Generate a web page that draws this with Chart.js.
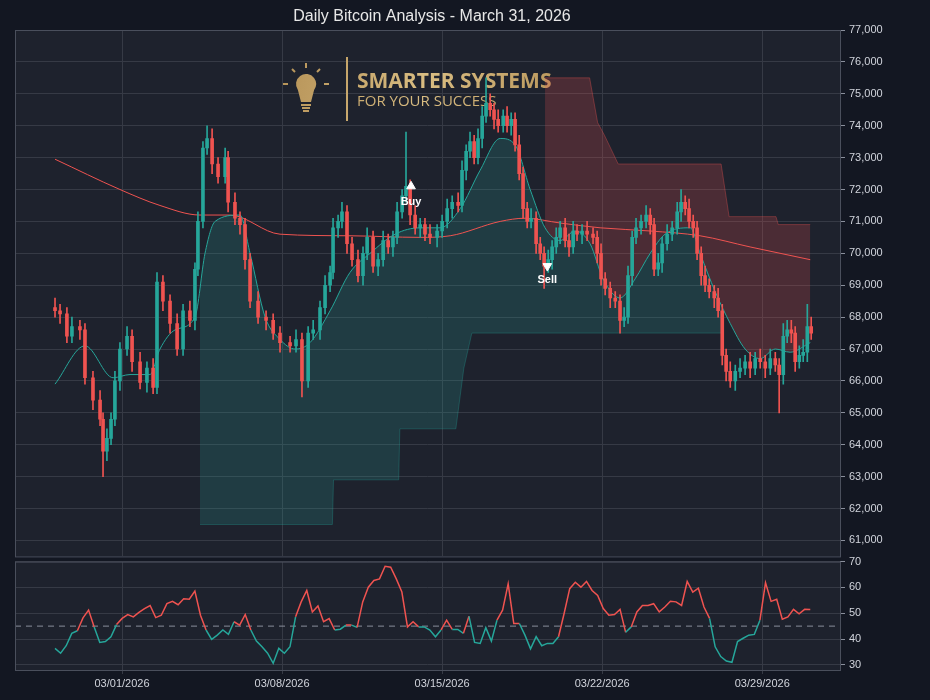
<!DOCTYPE html>
<html>
<head>
<meta charset="utf-8">
<script src="https://cdn.jsdelivr.net/npm/chart.js@4/dist/chart.umd.min.js"></script>
<style>
  body { margin: 0; background: #131722; }
  #wrap { position: relative; width: 930px; height: 700px; overflow: hidden; }
  #main { position: absolute; left: 0; top: 0; }
  #rsi { position: absolute; left: 0; top: 551px; }
</style>
</head>
<body>
<div id="wrap">
  <canvas id="main" width="930" height="567"></canvas>
  <canvas id="rsi" width="930" height="149"></canvas>
</div>
<script>
// time is in days from 03/01/2026
const title = "Daily Bitcoin Analysis - March 31, 2026";
const weekTicks = [0, 7, 14, 21, 28];
const priceTicks = [61000,62000,63000,64000,65000,66000,67000,68000,69000,70000,71000,72000,73000,74000,75000,76000,77000];
const rsiTicks = [30, 40, 50, 60, 70];

// candle times (days from 03/01) and closes (thousands of USD)
const candleT = [
  -2.93,-2.71,-2.41,-2.19,-1.84,-1.62,-1.27,-0.96,-0.83,-0.66,
  -0.48,-0.31,-0.09,0.22,0.44,0.79,1.09,1.36,1.53,1.79,
  2.10,2.41,2.67,2.97,3.19,3.32,3.54,3.72,3.94,4.20,
  4.51,4.64,4.94,5.16,5.38,5.60,5.95,6.30,6.61,6.91,
  7.35,7.61,7.87,8.14,8.36,8.66,8.88,9.10,9.23,9.45,
  9.62,9.84,10.06,10.32,10.54,10.72,10.98,11.20,11.42,11.64,
  11.85,12.03,12.25,12.42,12.60,12.82,13.04,13.25,13.47,13.78,
  14.00,14.22,14.44,14.70,14.87,15.05,15.22,15.40,15.57,15.75,
  15.92,16.10,16.27,16.45,16.67,16.84,17.02,17.19,17.37,17.54,
  17.72,17.89,18.11,18.29,18.46,18.64,18.81,18.99,19.16,19.38,
  19.55,19.73,19.90,20.12,20.34,20.60,20.78,20.95,21.13,21.35,
  21.57,21.78,21.96,22.13,22.31,22.48,22.70,22.92,23.10,23.27,
  23.45,23.62,23.84,24.06,24.28,24.45,24.63,24.80,24.98,25.15,
  25.33,25.50,25.68,25.90,26.07,26.25,26.42,26.60,26.82,27.03,
  27.25,27.47,27.69,27.91,28.13,28.35,28.57,28.74,28.92,29.09,
  29.27,29.44,29.62,29.79,29.97,30.14
];
const closes = [
  68.2,68.1,67.4,67.7,67.6,66.1,65.4,64.8,63.8,64.2,
  64.8,66.0,67.0,67.4,66.6,65.95,66.4,65.8,69.1,68.5,
  67.8,67.0,68.2,67.9,69.5,71.0,73.3,73.6,72.8,72.4,
  73.0,71.6,71.1,70.9,69.8,68.5,68.0,67.9,67.5,67.2,
  67.1,67.3,66.0,67.5,67.6,68.3,69.0,69.4,70.8,71.0,
  71.3,70.3,69.8,69.3,70.0,70.5,69.6,69.8,70.4,70.2,
  70.5,71.3,71.8,72.1,71.2,70.8,70.9,70.6,70.5,70.7,
  71.0,71.4,71.6,71.5,72.6,73.2,73.5,73.0,73.6,74.3,
  74.7,74.5,74.2,74.0,74.3,74.0,74.2,73.4,72.5,71.4,
  71.0,71.1,70.3,70.0,69.6,69.8,70.2,70.5,70.8,70.4,
  70.2,70.7,70.6,70.7,70.6,70.5,70.0,69.2,68.9,68.6,
  68.5,67.9,68.0,69.3,70.5,70.8,71.0,71.2,70.9,69.5,
  69.7,70.3,70.6,70.8,71.3,71.6,71.4,71.0,70.8,70.0,
  69.3,69.0,68.8,68.6,68.2,66.8,66.3,66.0,66.3,66.4,
  66.6,66.4,66.7,66.6,66.4,66.7,66.5,66.2,67.4,67.6,
  67.5,66.6,66.8,66.9,67.7,67.5
];
const firstOpen = 68.3;
// upper / lower wick beyond the body, hundreds of USD
const wickUp = [
  3,2,2,3,2,2,2,3,2,3, 2,3,2,3,2,3,2,3,3,2, 2,3,2,3,2,3,2,4,3,2, 3,2,3,2,2,2,3,2,2,2,
  2,3,2,2,3,2,3,2,3,2, 3,2,2,3,2,3,2,2,3,2, 2,3,2,17,2,3,2,2,3,2, 2,3,2,3,3,2,3,2,3,3,
  8,3,2,3,2,3,2,2,3,2, 2,3,2,2,2,3,2,3,2,3, 2,3,2,2,3,2,2,3,2,2, 2,2,3,3,2,3,2,3,2,2,
  3,2,3,2,3,4,2,3,2,2, 2,3,2,2,3,2,2,3,2,3, 2,3,2,3,2,3,2,2,4,3, 3,2,3,4,7,3
];
const wickDn = [
  2,3,2,2,3,2,3,2,8,3, 2,2,3,2,3,2,3,2,2,3, 3,2,2,2,3,2,2,2,3,2, 2,3,2,3,3,2,2,3,2,3,
  2,2,5,2,2,3,2,2,2,3, 2,3,2,2,3,2,2,3,2,2, 3,2,2,2,3,2,3,2,2,3, 2,2,3,2,2,3,2,2,2,3,
  2,2,3,2,2,2,3,2,2,3, 2,2,3,2,7,2,3,2,2,2, 3,2,2,3,2,2,3,2,2,3, 2,4,2,2,3,2,2,2,3,2,
  2,3,2,2,2,3,2,2,3,2, 3,2,2,3,2,3,3,2,3,2, 2,3,2,2,3,2,2,12,3,2, 3,3,2,2,3,2
];

const fastMaT = [-2.93,-1.62,-0.39,0.35,1.22,1.66,2.32,3.19,3.63,4.07,5.16,5.6,6.26,6.91,7.57,8.22,9.1,9.97,10.85,11.94,13.04,13.91,14.79,15.66,16.54,17.19,17.85,18.5,19.16,19.82,20.47,21.04,21.78,22.44,23.1,23.75,24.85,25.28,25.94,26.6,27.25,27.91,28.57,29.22,30.1];
const fastMa = [65.9,67.1,66.1,66.2,66.2,67.0,67.6,68.0,70.0,71.0,71.2,70.0,68.0,67.3,67.0,67.2,68.2,69.4,70.0,70.6,70.8,70.8,71.4,72.6,73.6,73.4,72.0,70.8,70.4,70.7,70.3,69.2,68.6,69.2,70.0,70.6,70.8,70.0,68.8,67.8,67.0,66.7,67.0,66.9,67.2];
const slowMaT = [-2.93,-0.09,1.66,3.41,4.72,6.91,9.97,13.04,14.35,16.54,17.63,19.16,20.91,23.1,25.28,27.47,30.1];
const slowMa = [72.95,72.0,71.5,71.2,71.2,70.6,70.55,70.5,70.55,71.0,71.1,70.95,70.8,70.7,70.55,70.2,69.8];

const supportT = [3.41,9.2,9.25,12.1,12.15,14.6,14.95,15.3,26.2];
const support = [61.5,61.5,62.9,62.9,64.5,64.5,66.4,67.5,67.5];
const resistT = [18.5,20.45,20.8,21.1,21.7,26.2,26.55,28.6,28.7,30.1];
const resist = [75.5,75.5,74.1,73.7,72.8,72.8,71.15,71.15,70.9,70.9];

const buySignal = { t: 12.64, price: 72.1, label: "Buy" };
const sellSignal = { t: 18.6, price: 69.6, label: "Sell" };

const rsiStart = -2.93, rsiEnd = 30.1;
const rsi = [
  36.4,34.5,37.4,42.2,43.2,48.2,51.2,44.7,38.7,39,
  40.9,45.6,48,49.5,48.6,50.3,51.8,53,48.3,49.2,
  53.7,54.6,53.3,55.6,55.4,58.6,49.2,43.5,39.9,41.5,
  43.5,41.8,46.7,45.4,49.5,43.5,39.2,37,34.5,30.6,
  36.4,34.5,37,48.6,54.4,58.8,50.5,52.8,46.7,47.9,
  43.5,43.8,45.4,45.4,44.5,54.4,60.1,62.7,63.3,68.2,
  67.8,63.3,58.2,44.7,46.7,44.7,44.7,43.5,40.9,43.5,
  47.3,43.7,43.7,42.2,48.8,38.7,38.3,44.4,39.2,47.3,
  51.2,61.4,46,46,41.5,36.2,40.9,37.4,38.3,38.3,
  40.9,49.9,59.5,62,60.1,62.3,58.8,56.9,51.8,49.2,
  49.5,51.5,42.6,44.7,50.5,53,53,53.7,50.5,52.4,
  54.6,54.4,53,62.3,58.2,59.7,52.4,48,37,33.2,
  31.5,31,39,40.3,41.5,41.8,47.3,61.8,54.6,55.4,
  47.7,48.6,51.5,49.8,51.5,51.4
];
const rsiMid = 45;

const UP = '#26a69a', DOWN = '#ef5350', TXT = '#d1d4dc', GRID = '#363a45';
const FONT = { family: 'Liberation Sans, Arial, sans-serif', size: 11 };
const X_MIN = -4.68, X_MAX = 31.4;

const candles = closes.map((c, i) => {
  const o = i ? closes[i - 1] : firstOpen;
  return {
    t: candleT[i], o: o * 1000, c: c * 1000,
    h: (Math.max(o, c) * 1000) + wickUp[i] * 100,
    l: (Math.min(o, c) * 1000) - wickDn[i] * 100
  };
});
const pts = (ts, vs, k) => ts.map((t, i) => ({ x: t, y: vs[i] * k }));
const candleColor = ctx => {
  const d = candles[ctx.dataIndex];
  return d && d.c >= d.o ? UP : DOWN;
};

const panelBg = {
  id: 'panelBg',
  beforeDraw(chart) {
    const a = chart.chartArea, g = chart.ctx;
    g.save();
    g.fillStyle = '#1e222d';
    g.fillRect(a.left, a.top, a.right - a.left, a.bottom - a.top);
    g.restore();
  },
  afterDraw(chart) {
    const a = chart.chartArea, g = chart.ctx;
    g.save();
    g.strokeStyle = '#4a4f5c';
    g.lineWidth = 1;
    g.strokeRect(a.left + 0.5, a.top + 0.5, a.right - a.left, a.bottom - a.top);
    g.restore();
  }
};

const decorations = {
  id: 'decorations',
  beforeDatasetsDraw(chart) {
    const g = chart.ctx;
    g.save();
    const gold = g.createLinearGradient(290, 60, 560, 120);
    gold.addColorStop(0, '#b8955a');
    gold.addColorStop(0.5, '#d9bd82');
    gold.addColorStop(1, '#b8955a');
    g.fillStyle = gold; g.strokeStyle = gold;
    // bulb
    g.beginPath(); g.arc(306, 84, 10, Math.PI * 0.8, Math.PI * 2.2); g.lineTo(311, 102); g.lineTo(301, 102); g.closePath(); g.fill();
    g.fillRect(301, 104, 10, 2); g.fillRect(302, 107, 8, 2); g.fillRect(303, 110, 6, 2);
    g.lineWidth = 2;
    [[306, 63, 306, 68], [292, 69, 295, 72], [320, 69, 317, 72], [283, 84, 288, 84], [324, 84, 329, 84]].forEach(l => {
      g.beginPath(); g.moveTo(l[0], l[1]); g.lineTo(l[2], l[3]); g.stroke();
    });
    g.fillRect(346, 57, 2, 64);
    g.font = 'bold 21px "Open Sans", sans-serif';
    g.textBaseline = 'alphabetic';
    g.fillText('SMARTER SYSTEMS', 357, 88);
    g.font = '15px "Open Sans", sans-serif';
    g.fillText('FOR YOUR SUCCESS', 357, 106);
    g.restore();
  },
  afterDatasetsDraw(chart) {
    const g = chart.ctx, x = chart.scales.x, y = chart.scales.y;
    g.save();
    g.fillStyle = '#ffffff';
    g.font = 'bold 11px "Liberation Sans", Arial, sans-serif';
    g.textAlign = 'center'; g.textBaseline = 'middle';
    g.fillText(buySignal.label, x.getPixelForValue(buySignal.t), y.getPixelForValue(buySignal.price * 1000) + 16);
    g.fillText(sellSignal.label, x.getPixelForValue(sellSignal.t), y.getPixelForValue(sellSignal.price * 1000) + 14);
    g.font = '16px "Liberation Sans", Arial, sans-serif';
    g.fillStyle = '#e8e8e8';
    g.fillText(title, 432, 17);
    g.restore();
  }
};

const xScale = (showLabels) => ({
  type: 'linear', min: X_MIN, max: X_MAX, offset: false,
  afterBuildTicks: s => { s.ticks = weekTicks.map(v => ({ value: v })); },
  grid: { color: GRID, drawTicks: showLabels, tickLength: 4, offset: false },
  border: { display: false },
  ticks: {
    display: showLabels, color: TXT, font: FONT, maxRotation: 0,
    callback: v => '03/' + String(1 + v).padStart(2, '0') + '/2026'
  },
  afterFit: s => { s.height = showLabels ? 30 : 0; }
});

const yScale = (min, max, ticks, fmt) => ({
  position: 'right', min, max,
  afterBuildTicks: s => { s.ticks = ticks.map(v => ({ value: v })); },
  grid: { color: GRID, tickLength: 5, tickColor: '#8a8f9c' },
  border: { display: false },
  ticks: { color: TXT, font: FONT, padding: 4, callback: fmt },
  afterFit: s => { s.width = 90; }
});

new Chart(document.getElementById('main'), {
  type: 'bar',
  data: {
    datasets: [
      { type: 'line', label: 'resist', data: pts(resistT, resist, 1000), borderColor: 'rgba(239,83,80,0.35)', borderWidth: 1,
        backgroundColor: 'rgba(239,83,80,0.22)', fill: 2, pointRadius: 0, tension: 0, order: 6 },
      { type: 'line', label: 'support', data: pts(supportT, support, 1000), borderColor: 'rgba(38,166,154,0.3)', borderWidth: 1,
        backgroundColor: 'rgba(38,166,154,0.2)', fill: 2, pointRadius: 0, tension: 0, order: 7 },
      { type: 'line', label: 'fast', data: pts(fastMaT, fastMa, 1000), borderColor: UP, borderWidth: 1,
        pointRadius: 0, cubicInterpolationMode: 'monotone', fill: false, order: 3 },
      { type: 'line', label: 'slow', data: pts(slowMaT, slowMa, 1000), borderColor: DOWN, borderWidth: 1,
        pointRadius: 0, cubicInterpolationMode: 'monotone', fill: false, order: 4 },
      { label: 'wicks', data: candles.map(d => ({ x: d.t, y: [d.l, d.h] })), backgroundColor: candleColor,
        barThickness: 1, grouped: false, order: 2 },
      { label: 'bodies', data: candles.map(d => ({ x: d.t, y: [d.o, d.c] })), backgroundColor: candleColor,
        barThickness: 3, minBarLength: 1, grouped: false, order: 1 },
      { type: 'scatter', label: 'buy', data: [{ x: buySignal.t, y: buySignal.price * 1000 }], pointStyle: 'triangle',
        pointRadius: 5, backgroundColor: '#fff', borderColor: '#fff', order: 0 },
      { type: 'scatter', label: 'sell', data: [{ x: sellSignal.t, y: sellSignal.price * 1000 }], pointStyle: 'triangle',
        rotation: 180, pointRadius: 5, backgroundColor: '#fff', borderColor: '#fff', order: 0 }
    ]
  },
  options: {
    responsive: false, animation: false,
    layout: { padding: { left: 15, top: 30, bottom: 3, right: 0 } },
    plugins: { legend: { display: false }, tooltip: { enabled: false } },
    scales: {
      x: xScale(false),
      y: yScale(60500, 77000, priceTicks, v => v.toLocaleString('en-US'))
    }
  },
  plugins: [panelBg, decorations]
});

const rsiStep = (rsiEnd - rsiStart) / (rsi.length - 1);
new Chart(document.getElementById('rsi'), {
  type: 'line',
  data: {
    datasets: [
      { data: rsi.map((v, i) => ({ x: rsiStart + i * rsiStep, y: v })), borderWidth: 1.5, pointRadius: 0, tension: 0,
        borderColor: UP,
        segment: { borderColor: c => ((c.p0.parsed.y + c.p1.parsed.y) / 2 >= rsiMid ? DOWN : UP) } },
      { data: [{ x: X_MIN, y: rsiMid }, { x: X_MAX, y: rsiMid }], borderColor: '#8a8f9c', borderWidth: 1,
        borderDash: [6, 5], pointRadius: 0 }
    ]
  },
  options: {
    responsive: false, animation: false,
    layout: { padding: { left: 15, top: 2, bottom: 0, right: 0 } },
    plugins: { legend: { display: false }, tooltip: { enabled: false } },
    scales: {
      x: xScale(true),
      y: yScale(28, 70, rsiTicks)
    }
  },
  plugins: [panelBg]
});
</script>
</body>
</html>
